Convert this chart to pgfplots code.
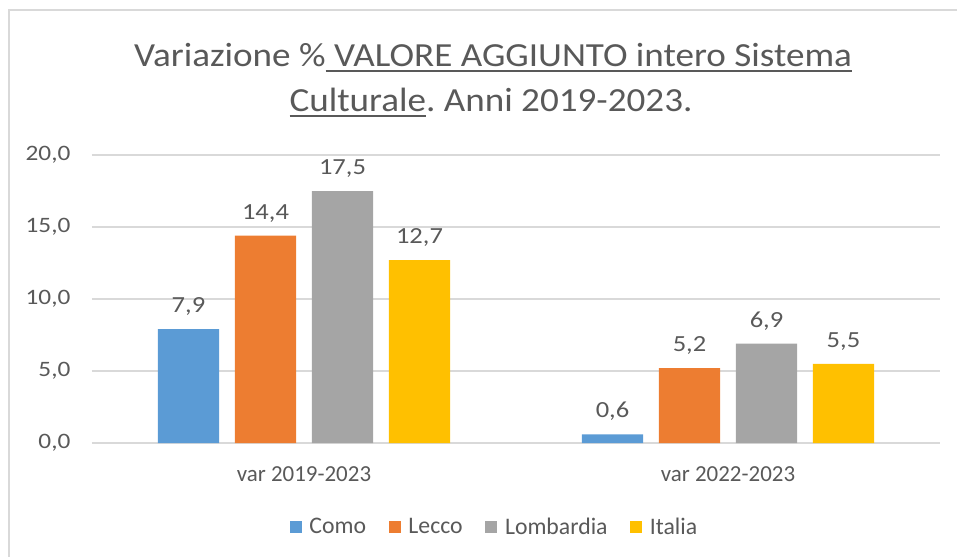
\documentclass[border=0pt]{standalone}
\usepackage{pgfplots}
\pgfplotsset{compat=1.18}
\usepackage{fontspec}
\setmainfont{Carlito}
\newfontfamily\titlefont{Carlito}[FakeStretch=1.1]
\newfontfamily\numfont{Carlito}[FakeStretch=1.15]
\definecolor{txt}{HTML}{595959}
\definecolor{grd}{HTML}{D9D9D9}
\definecolor{como}{HTML}{5B9BD5}
\definecolor{lecco}{HTML}{ED7D31}
\definecolor{lomb}{HTML}{A5A5A5}
\definecolor{ita}{HTML}{FFC000}
\newsavebox{\ulbox}
\newcommand{\myul}[1]{\sbox{\ulbox}{#1}\rlap{\rule[-3.8pt]{\wd\ulbox}{1.4pt}}\usebox{\ulbox}}
\frenchspacing
\begin{document}
\begin{tikzpicture}[x=0.75pt,y=0.75pt]
\useasboundingbox (0,0) rectangle (957,557);
\draw[grd, line width=2pt] (9,0) -- (9,547) -- (957,547);
\node[txt, anchor=base, inner sep=0, font=\titlefont\fontsize{25.3}{30}\selectfont] at (493,490.3) {Variazione \%\myul{\ VALORE AGGIUNTO intero Sistema}};
\node[txt, anchor=base, inner sep=0, font=\titlefont\fontsize{25.3}{30}\selectfont] at (491,445.3) {\myul{Culturale}. Anni 2019-2023.};
\begin{axis}[
  at={(69pt,85.5pt)}, anchor=south west,
  scale only axis, width=636pt, height=216pt,
  xmin=-0.5, xmax=1.5, ymin=0, ymax=20,
  ytick={0,5,10,15,20},
  xtick={0,1}, xticklabels={var 2019-2023, var 2022-2023},
  ymajorgrids, grid style={grd, line width=1pt},
  axis line style={draw=none},
  major tick length=0,
  tick label style={txt, inner sep=0pt},
  yticklabel style={anchor=east, xshift=-16pt, font=\numfont\fontsize{16.5}{20}\selectfont,
    /pgf/number format/.cd, fixed, fixed zerofill, precision=1, use comma},
  xticklabel style={anchor=north, yshift=-17.5pt, font=\fontsize{17.2}{20}\selectfont},
  /pgf/number format/assume math mode=true,
  ybar, bar width=0.1439,
  nodes near coords,
  every node near coord/.append style={txt, font=\numfont\fontsize{17.3}{20}\selectfont, inner sep=0pt, anchor=south, yshift=10pt,
    /pgf/number format/.cd, fixed, fixed zerofill, precision=1, use comma, assume math mode=true},
  legend columns=4,
  legend style={draw=none, at={(0.478,-0.2917)}, anchor=center,
    font=\fontsize{17.8}{20}\selectfont, text=txt,
    nodes={inner xsep=5.8pt, inner ysep=0pt},
    /tikz/every even column/.append style={column sep=11.2pt}},
  legend image code/.code={\fill[#1, draw=none] (0pt,-4.5pt) rectangle (9pt,4.5pt);},
]
\addplot[fill=como, draw=none, bar shift=-0.2724] coordinates {(0,7.9) (1,0.6)};
\addplot[fill=lecco, draw=none, bar shift=-0.0908] coordinates {(0,14.4) (1,5.2)};
\addplot[fill=lomb, draw=none, bar shift=0.0908] coordinates {(0,17.5) (1,6.9)};
\addplot[fill=ita, draw=none, bar shift=0.2724] coordinates {(0,12.7) (1,5.5)};
\legend{Como, Lecco, Lombardia, Italia}
\end{axis}
\end{tikzpicture}
\end{document}
